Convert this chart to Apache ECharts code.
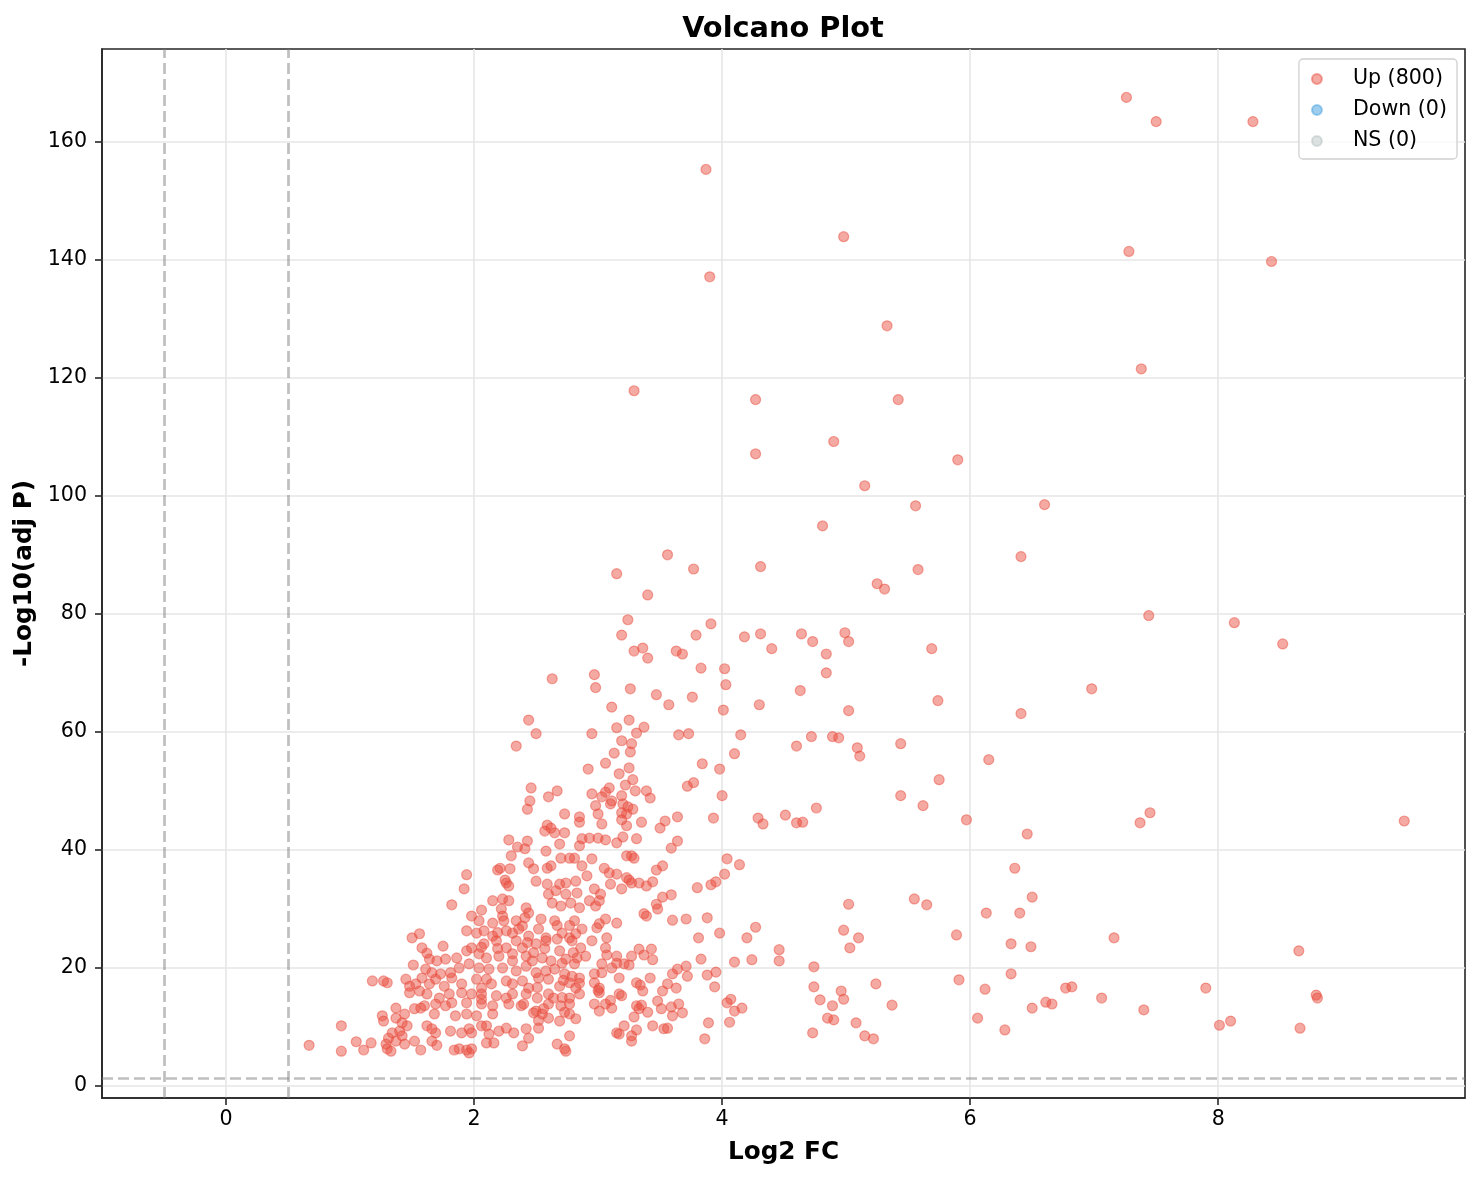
<!DOCTYPE html>
<html>
<head>
<meta charset="utf-8">
<script src="https://cdn.jsdelivr.net/npm/echarts@6.0.0/dist/echarts.min.js"></script>
<style>
html,body{margin:0;padding:0;background:#fff;}
#chart{width:1482px;height:1180px;}
</style>
</head>
<body>
<div id="chart"></div>
<script>
// ---- chart text ----
const titleText = 'Volcano Plot';
const xName = 'Log2 FC';
const yName = '-Log10(adj P)';
const seriesNames = ['Up (800)', 'Down (0)', 'NS (0)'];
const xTickValues = [0, 2, 4, 6, 8];
const yTickValues = [0, 20, 40, 60, 80, 100, 120, 140, 160];
const xRange = [-1, 9.99];
const yRange = [-2.03, 175.7];
const fcThreshold = 0.5;
const padjThreshold = 0.05;

// ---- Up-regulated points [log2FC, -log10(padj)] ----
const upHigh = [[7.26,167.5],[7.50,163.4],[8.28,163.4],[3.87,155.3],[4.98,143.9],[7.28,141.4],[8.43,139.7],[3.90,137.1],[5.33,128.8],[7.38,121.5],[3.29,117.8],[4.27,116.3],[5.42,116.3],[4.90,109.2],[4.27,107.1],[5.90,106.1],[5.15,101.7],[5.56,98.3],[6.60,98.5],[4.81,94.9],[3.56,90.0],[6.41,89.7],[3.77,87.6],[3.15,86.8],[4.31,88.0],[5.58,87.5],[5.25,85.1],[5.31,84.2],[3.40,83.2],[7.44,79.7],[8.13,78.5],[8.52,74.9]];

const upMidRight = [[5.69,74.1],[4.84,73.2],[4.84,70.0],[6.98,67.3],[5.74,65.3],[5.02,63.6],[6.41,63.1],[4.72,59.2],[4.89,59.2],[4.94,59.0],[5.09,57.3],[5.44,58.0],[5.11,55.9],[6.15,55.3],[5.75,51.9],[4.73,75.3],[4.99,76.8],[5.02,75.3],[4.64,76.6]];

const upUpperCloud = [[3.24,79.0],[3.19,76.4],[3.29,73.7],[3.36,74.2],[3.40,72.5],[2.63,69.0],[2.97,69.7],[2.98,67.5],[3.26,67.3],[3.11,64.2],[3.47,66.3],[3.57,64.6],[3.76,65.9],[3.79,76.4],[3.91,78.3],[3.63,73.7],[3.68,73.2],[3.83,70.8],[4.02,70.7],[4.03,68.0],[4.01,63.7],[4.18,76.1],[4.31,76.6],[4.40,74.1],[4.30,64.6],[4.60,57.6],[4.63,67.0],[2.44,62.0],[2.50,59.7],[2.34,57.6],[2.95,59.7],[3.25,62.0],[3.15,60.7],[3.37,60.8],[3.31,59.8],[3.19,58.5],[3.27,58.0],[3.26,56.6],[3.13,56.4],[3.65,59.5],[3.73,59.7],[4.15,59.5],[4.10,56.3],[3.84,54.6],[3.98,53.7],[3.06,54.7],[2.92,53.7],[3.25,53.9],[3.17,52.9],[3.28,51.9],[3.22,51.0],[3.72,50.8],[3.77,51.4],[4.00,49.2],[2.46,50.5],[2.67,50.0],[2.60,49.0],[2.45,48.3],[2.43,46.9],[2.95,49.5],[3.09,50.5],[3.06,49.8],[3.03,49.0],[3.11,48.3],[3.10,47.8],[3.19,49.2],[3.30,50.0],[3.39,50.0],[3.42,48.8],[3.20,47.8],[3.24,47.3],[3.28,46.9],[3.19,46.3],[3.23,46.1],[2.98,47.5],[3.00,46.1],[2.73,46.1],[2.85,45.6],[2.85,44.7],[3.03,44.4],[3.19,45.1],[3.23,44.1],[3.35,44.7],[3.54,44.9],[3.50,43.7],[3.64,45.6],[3.93,45.4],[4.29,45.4],[4.33,44.4],[4.51,45.9],[4.60,44.6],[4.65,44.7],[2.59,44.2],[2.57,43.2],[2.62,43.7],[2.65,42.9],[2.73,42.9],[2.28,41.7],[2.43,41.5],[2.69,41.0],[2.87,41.9],[2.93,42.0],[3.00,42.0],[3.06,41.7],[3.15,41.2],[3.20,42.2],[3.31,41.9],[3.64,41.5],[3.59,40.3]];

const upRightTail = [[4.76,47.1],[5.44,49.2],[5.62,47.5],[5.97,45.1],[6.46,42.7],[6.36,36.9],[6.50,32.0],[6.13,29.3],[6.40,29.3],[5.02,30.8],[5.55,31.7],[5.65,30.7],[4.98,26.4],[5.10,25.1],[5.03,23.4],[5.89,25.6],[6.33,24.1],[6.49,23.6],[4.74,20.2],[4.74,16.8],[4.96,16.1],[4.98,14.7],[4.79,14.6],[4.89,13.6],[4.85,11.5],[4.90,11.2],[4.73,9.0],[5.08,10.7],[5.15,8.5],[5.22,8.0],[5.24,17.3],[5.37,13.7],[5.91,18.0],[6.12,16.4],[6.06,11.5],[6.28,9.5],[6.33,19.0],[6.50,13.2],[6.61,14.2],[6.66,13.9],[6.77,16.6],[6.82,16.8],[7.06,14.9],[7.37,44.6],[7.45,46.3],[9.50,44.9],[7.16,25.1],[8.65,22.9],[7.40,12.9],[7.90,16.6],[8.01,10.3],[8.10,11.0],[8.79,15.4],[8.80,14.9],[8.66,9.8]];

const upCoreLeft = [[1.94,35.8],[1.92,33.4],[1.82,30.7],[1.98,28.8],[2.06,29.8],[2.04,28.0],[1.56,25.8],[1.50,25.1],[1.58,23.4],[1.75,23.7],[1.94,26.3],[2.02,25.9],[2.08,26.3],[1.62,22.5],[1.64,21.5],[1.70,21.2],[1.77,21.5],[1.86,21.7],[1.94,22.9],[1.98,23.4],[1.51,20.5],[1.61,19.8],[1.66,19.2],[1.73,19.0],[1.81,19.2],[1.88,20.0],[1.96,20.7],[1.18,17.8],[1.27,17.8],[1.30,17.5],[1.45,18.1],[1.48,16.9],[1.53,17.3],[1.58,18.3],[1.64,17.3],[1.69,18.1],[1.76,16.9],[1.82,18.3],[1.90,17.3],[2.02,18.1],[2.06,16.6],[1.48,15.8],[1.56,16.1],[1.62,15.6],[1.72,14.9],[1.80,15.6],[1.90,15.8],[1.98,15.6],[2.06,14.7],[1.69,13.9],[1.77,13.6],[1.82,14.1],[1.94,14.1],[2.06,13.9],[1.37,13.2],[1.44,12.2],[1.52,13.1],[1.57,13.2],[1.60,13.6],[1.68,12.2],[1.85,11.9],[1.94,12.2],[2.02,11.9],[1.26,11.9],[1.27,11.0],[1.37,11.5],[1.42,10.7],[1.46,10.2],[1.40,9.3],[1.34,9.0],[1.31,8.1],[1.37,7.6],[1.42,8.5],[1.44,7.1],[1.29,7.1],[1.30,6.3],[1.33,5.9],[0.93,10.2],[0.67,6.9],[0.93,5.9],[1.05,7.5],[1.11,6.1],[1.17,7.3],[1.52,7.6],[1.57,6.1],[1.62,10.2],[1.66,9.7],[1.69,9.0],[1.66,7.6],[1.70,6.9],[1.81,9.3],[1.90,9.0],[1.96,9.7],[1.98,9.0],[2.06,10.2],[2.10,7.3],[1.84,6.1],[1.88,6.3],[1.94,6.1],[1.98,6.3],[1.96,5.6],[2.35,40.5],[2.41,40.2],[2.30,39.0],[2.44,37.8],[2.19,36.6],[2.21,36.9],[2.29,36.8],[2.25,34.9]];

const upCoreMid = [[2.58,39.8],[2.85,40.7],[3.23,39.0],[2.48,36.8],[2.59,36.9],[2.62,37.3],[2.70,38.6],[2.77,38.6],[2.81,38.6],[2.87,37.3],[2.95,38.5],[3.05,36.9],[3.09,36.1],[3.15,35.9],[3.23,35.3],[3.27,34.4],[3.19,33.4],[2.26,34.4],[2.28,33.9],[2.50,34.7],[2.59,34.2],[2.69,34.2],[2.74,34.4],[2.82,34.7],[2.91,35.6],[2.97,33.4],[3.02,32.5],[3.10,34.2],[2.60,32.5],[2.66,33.1],[2.74,32.5],[2.83,32.7],[2.93,31.4],[2.98,30.5],[3.01,31.4],[2.15,31.4],[2.23,31.7],[2.28,31.4],[2.63,31.0],[2.70,30.5],[2.78,31.0],[2.85,30.2],[2.22,30.0],[2.23,28.8],[2.42,30.2],[2.44,29.3],[2.15,27.6],[2.24,28.0],[2.34,28.0],[2.39,27.1],[2.54,28.3],[2.65,28.0],[2.81,28.0],[2.87,26.6],[3.01,27.5],[3.06,28.3],[3.15,27.6],[2.15,25.4],[2.26,26.3],[2.31,25.9],[2.36,26.6],[2.44,25.4],[2.52,26.6],[2.58,25.1],[2.71,25.9],[2.77,25.1],[2.82,25.8],[2.95,24.6],[2.99,26.8],[3.07,25.1],[2.08,24.1],[2.18,24.6],[2.26,23.4],[2.34,24.6],[2.39,23.4],[2.50,24.1],[2.58,24.6],[2.69,22.9],[2.79,24.6],[2.86,23.4],[2.90,22.0],[3.06,23.4],[3.15,22.0],[2.04,22.4],[2.10,21.7],[2.20,22.0],[2.31,22.4],[2.42,22.0],[2.47,21.2],[2.55,21.7],[2.62,21.2],[2.74,21.5],[2.81,20.7],[3.03,20.7],[3.11,20.0],[3.21,20.7],[2.04,20.0],[2.12,19.8],[2.23,20.0],[2.34,19.5],[2.42,20.3],[2.50,19.2],[2.58,19.5],[2.65,19.8],[2.73,19.0],[2.79,18.6],[2.85,18.3],[2.97,19.0],[3.03,19.2],[3.17,18.3],[2.10,18.1],[2.14,17.3],[2.26,17.8],[2.31,17.3],[2.39,17.8],[2.44,16.6],[2.52,18.3],[2.60,18.1],[2.69,16.9],[2.77,17.5],[2.82,16.6],[2.97,17.5],[3.01,16.6],[3.31,17.5],[2.06,15.6],[2.18,15.3],[2.26,14.9],[2.31,15.6],[2.42,15.6],[2.51,14.9],[2.60,15.6],[2.77,14.9],[2.85,15.6],[3.01,15.8],[3.17,15.6],[3.19,15.3],[2.15,13.6],[2.28,13.9],[2.38,13.6],[2.40,13.9],[2.50,12.7],[2.56,13.1],[2.60,13.9],[2.70,13.6],[2.77,13.9],[2.97,13.9],[3.01,12.7],[3.06,13.9],[3.11,13.2],[3.31,13.6],[2.15,12.2],[2.48,12.4],[2.55,12.2],[2.60,11.5],[2.69,11.0],[2.77,12.2],[2.82,11.4],[2.10,10.2],[2.12,8.8],[2.20,9.3],[2.26,9.8],[2.32,9.0],[2.42,9.7],[2.44,8.1],[2.52,9.8],[2.77,8.5],[3.15,9.0],[3.17,8.8],[3.21,10.2],[2.16,7.3],[2.39,6.8],[2.67,7.1],[2.73,6.3],[2.74,5.9]];

const upCoreExtra = [[2.41,28.5],[2.19,26.0],[2.67,24.9],[2.06,23.5],[2.19,23.3],[2.43,24.3],[2.48,22.6],[2.57,23.3],[2.31,21.2],[2.51,16.7],[2.64,14.9],[2.52,11.1],[2.67,27.2],[2.77,27.2],[2.80,22.6],[2.83,21.7],[3.07,22.2],[2.71,20.8],[3.15,20.8],[2.72,17.9],[2.85,17.4],[3.00,16.2],[2.71,15.0],[2.73,12.5],[3.10,14.5]];

const upCoreRight = [[3.27,39.0],[3.29,38.6],[4.04,38.5],[4.14,37.5],[3.47,36.6],[3.52,37.3],[4.02,35.9],[3.25,34.9],[3.33,34.4],[3.39,33.9],[3.44,34.6],[3.80,33.6],[3.91,34.1],[3.95,34.6],[3.52,32.0],[3.59,32.4],[3.47,30.8],[3.48,30.0],[3.37,29.2],[3.39,28.8],[3.60,28.1],[3.71,28.3],[3.88,28.5],[4.27,26.9],[3.98,25.9],[3.81,25.1],[4.20,25.1],[3.33,23.2],[3.43,23.2],[3.27,22.0],[3.37,22.2],[3.44,21.4],[4.46,23.1],[4.46,21.2],[3.83,21.5],[4.10,21.0],[4.24,21.4],[3.25,20.5],[3.71,20.3],[3.64,19.8],[3.60,19.0],[3.72,18.6],[3.88,18.8],[3.95,19.3],[3.42,18.3],[3.34,17.1],[3.36,16.1],[3.56,17.3],[3.52,16.1],[3.63,16.6],[3.94,16.8],[3.48,14.4],[3.35,13.7],[3.33,13.1],[3.40,12.5],[3.51,13.1],[3.59,13.4],[3.65,13.9],[3.60,11.9],[3.68,12.4],[3.29,11.7],[4.04,14.1],[4.07,14.7],[4.10,12.7],[4.16,13.2],[3.44,10.2],[3.53,9.7],[3.56,9.8],[3.31,9.5],[3.89,10.7],[4.06,10.8],[3.27,8.5],[3.27,7.6],[3.86,8.0]];

const downPoints = [];
const nsPoints = [];

const upPoints = [].concat(upHigh, upMidRight, upUpperCloud, upRightTail, upCoreLeft, upCoreMid, upCoreExtra, upCoreRight);

const FONT = 'DejaVu Sans';
const chart = echarts.init(document.getElementById('chart'), null, {renderer: 'canvas'});
const axisColor = '#262626';
const pLine = -Math.log10(padjThreshold);

const option = {
  animation: false,
  backgroundColor: '#ffffff',
  textStyle: {fontFamily: FONT},
  title: {
    text: titleText,
    left: 783,
    top: 15,
    textAlign: 'center',
    padding: 0,
    textStyle: {fontFamily: FONT, fontSize: 28.8, fontWeight: 'bold', color: '#000'}
  },
  legend: {
    orient: 'vertical',
    right: 25,
    top: 59,
    data: seriesNames,
    icon: 'circle',
    itemWidth: 36,
    itemHeight: 10,
    itemGap: 7,
    padding: [8, 10, 6, 12],
    borderColor: '#d0d0d0',
    borderWidth: 1.3,
    borderRadius: 4,
    backgroundColor: 'rgba(255,255,255,0.8)',
    textStyle: {fontFamily: FONT, fontSize: 20.6, color: '#000', lineHeight: 24, padding: [0, 0, 0, 13]}
  },
  grid: {
    left: 102, right: 17, top: 49, bottom: 82,
    show: true, borderColor: axisColor, borderWidth: 1.6, backgroundColor: 'transparent'
  },
  xAxis: {
    type: 'value',
    min: xRange[0], max: xRange[1],
    name: xName,
    nameLocation: 'middle',
    nameGap: 42,
    nameTextStyle: {fontFamily: FONT, fontSize: 24.7, fontWeight: 'bold', color: '#000'},
    axisLine: {show: true, onZero: false, lineStyle: {color: axisColor, width: 1.6}},
    axisTick: {show: true, length: 7, inside: false, customValues: xTickValues, lineStyle: {color: axisColor, width: 1.6}},
    axisLabel: {customValues: xTickValues, fontFamily: FONT, fontSize: 20.6, color: '#000', margin: 11},
    splitLine: {show: true, lineStyle: {color: '#e6e6e6', width: 1.6}}
  },
  yAxis: {
    type: 'value',
    min: yRange[0], max: yRange[1],
    name: yName,
    nameLocation: 'middle',
    nameGap: 62,
    nameRotate: 90,
    nameTextStyle: {fontFamily: FONT, fontSize: 24.7, fontWeight: 'bold', color: '#000'},
    axisLine: {show: true, onZero: false, lineStyle: {color: axisColor, width: 1.6}},
    axisTick: {show: true, length: 7, inside: false, customValues: yTickValues, lineStyle: {color: axisColor, width: 1.6}},
    axisLabel: {customValues: yTickValues, fontFamily: FONT, fontSize: 20.6, color: '#000', margin: 15},
    splitLine: {show: true, lineStyle: {color: '#e6e6e6', width: 1.6}}
  },
  series: [
    {
      name: seriesNames[0],
      type: 'scatter',
      data: upPoints,
      symbol: 'circle',
      symbolSize: 10,
      itemStyle: {color: 'rgba(231,76,60,0.6)', borderColor: 'rgba(231,76,60,0.6)', borderWidth: 1.2},
      z: 3,
      markLine: {
        silent: true,
        symbol: ['none', 'none'],
        label: {show: false},
        animation: false,
        lineStyle: {type: [11, 5], color: 'rgba(128,128,128,0.5)', width: 2.7},
        data: [{xAxis: -fcThreshold}, {xAxis: fcThreshold}, {yAxis: pLine}]
      }
    },
    {
      name: seriesNames[1],
      type: 'scatter',
      data: downPoints,
      symbolSize: 10,
      itemStyle: {color: 'rgba(52,152,219,0.6)', borderColor: 'rgba(52,152,219,0.55)', borderWidth: 1.2}
    },
    {
      name: seriesNames[2],
      type: 'scatter',
      data: nsPoints,
      symbolSize: 10,
      itemStyle: {color: 'rgba(149,165,166,0.4)', borderColor: 'rgba(149,165,166,0.4)', borderWidth: 1.2}
    }
  ]
};
chart.setOption(option);
</script>
</body>
</html>
